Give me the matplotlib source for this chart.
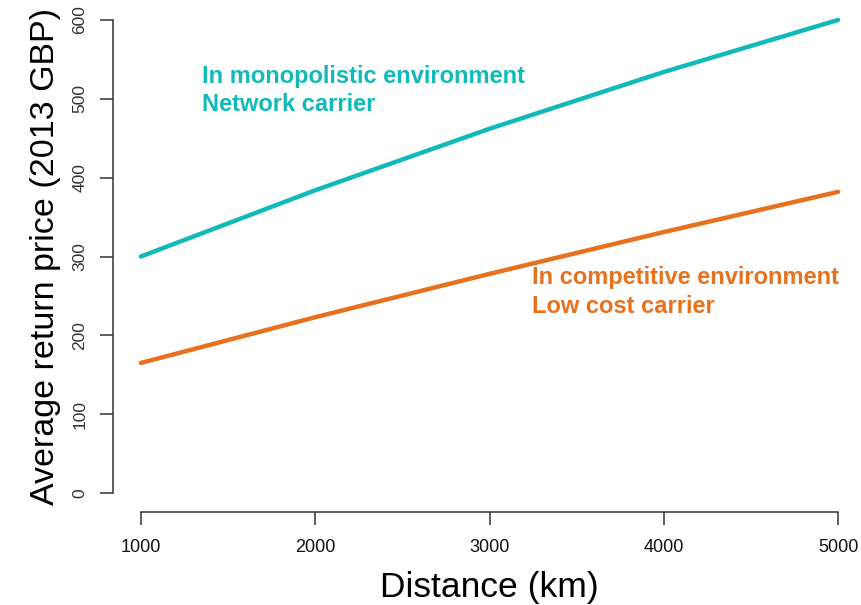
import numpy as np
import matplotlib
matplotlib.use("Agg")
import matplotlib.pyplot as plt

plt.rcParams['font.family'] = ['Liberation Sans', 'DejaVu Sans']

# distancias (km) e precos
distance = [1000, 2000, 3000, 4000, 5000]
network_price = [300, 384, 462, 534, 600]
lowcost_price = [165, 223, 278, 331, 382]

x_ticks = [1000, 2000, 3000, 4000, 5000]
y_ticks = [0, 100, 200, 300, 400, 500, 600]

teal = '#12B9B9'
orange = '#E8711E'
axis_col = '#333333'

fig = plt.figure(figsize=(8.62, 6.05), dpi=100)
ax = fig.add_axes([113/862, 93/605, 753/862, 511/605])

ax.plot(distance, network_price, color=teal, lw=3.2,
        solid_capstyle='round', solid_joinstyle='round')
ax.plot(distance, lowcost_price, color=orange, lw=3.2,
        solid_capstyle='round', solid_joinstyle='round')

ax.set_xlim(840, 5160)
ax.set_ylim(-24, 624)

# eixos estilo R
for s in ['top', 'right']:
    ax.spines[s].set_visible(False)
ax.spines['left'].set_bounds(0, 600)
ax.spines['bottom'].set_bounds(1000, 5000)
for s in ['left', 'bottom']:
    ax.spines[s].set_color(axis_col)
    ax.spines[s].set_linewidth(1.1)

ax.set_xticks(x_ticks)
ax.set_yticks(y_ticks)
ax.tick_params(axis='both', direction='out', length=9.5, width=1.1, color=axis_col)
ax.tick_params(axis='x', labelsize=13, pad=10, labelcolor='#111111')
ax.tick_params(axis='y', labelsize=12.5, pad=9, labelcolor='#333333')
for lab in ax.get_yticklabels():
    lab.set_rotation(90)
    lab.set_va('center')

ax.set_xlabel('Distance (km)', fontsize=25.5, labelpad=11)
ax.set_ylabel('Average return price (2013 GBP)', fontsize=24.5, labelpad=8)

# textos
ax.text(1351, 528, 'In monopolistic environment', color=teal, fontsize=17,
        fontweight='bold', va='center', ha='left')
ax.text(1351, 493, 'Network carrier', color=teal, fontsize=17,
        fontweight='bold', va='center', ha='left')
ax.text(3245, 273, 'In competitive environment', color=orange, fontsize=17,
        fontweight='bold', va='center', ha='left')
ax.text(3245, 237, 'Low cost carrier', color=orange, fontsize=17,
        fontweight='bold', va='center', ha='left')

fig.savefig('out.png', dpi=100)
